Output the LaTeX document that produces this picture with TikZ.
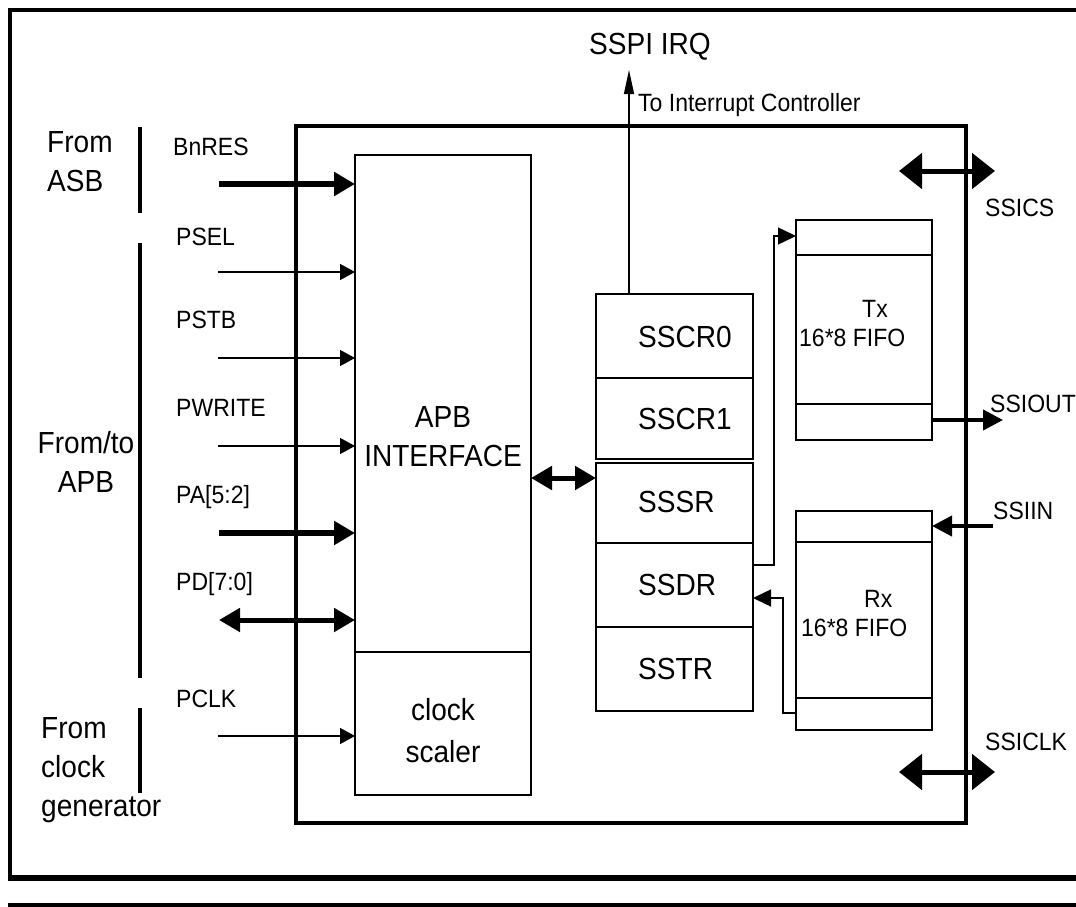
\documentclass[tikz,border=0pt]{standalone}
\usepackage{fontspec}
\setmainfont{Liberation Sans}[FakeStretch=0.92]
\usetikzlibrary{arrows.meta}
\newcommand{\bigf}{\fontsize{30.5pt}{39pt}\selectfont}
\newcommand{\smf}{\fontsize{25pt}{29pt}\selectfont}
\tikzset{
  blk/.style={draw, line width=1.4pt, inner sep=0pt, outer sep=0pt, anchor=north west},
  bigtxt/.style={font=\bigf, inner sep=0pt},
  smtxt/.style={font=\smf, inner sep=0pt},
  thinarr/.style={line width=1.3pt, -{Triangle[length=15pt,width=16pt]}},
  thickarr/.style={line width=6pt, -{Triangle[length=21pt,width=23pt]}},
  thickdbl/.style={line width=5pt, {Triangle[length=21pt,width=23pt]}-{Triangle[length=21pt,width=23pt]}},
  bigdbl/.style={line width=5pt, {Triangle[length=23pt,width=35pt]}-{Triangle[length=23pt,width=35pt]}},
  medarr/.style={line width=4pt, -{Triangle[length=20pt,width=20pt]}},
  smallarr/.style={line width=1.5pt, -{Triangle[length=18pt,width=17pt]}},
  irqarr/.style={line width=1.3pt, -{Triangle[length=24pt,width=10pt]}},
  bar/.style={line width=4pt},
}
\begin{document}
\begin{tikzpicture}[x=1pt,y=-1pt]
\useasboundingbox (0,0) rectangle (1076,907);
% outer frame
\draw[line width=4pt] (1076,10) -- (10,10) -- (10,878);
\draw[line width=6.5pt] (8,878) -- (1076,878);
\draw[line width=5pt] (8,905) -- (1076,905);

% main box
\node[blk, line width=3.5pt, minimum width=670pt, minimum height=697pt] (main) at (296,126) {};

% APB interface and clock scaler
\node[blk, minimum width=176pt, minimum height=497pt] (apb) at (355,155) {};
\node[blk, minimum width=176pt, minimum height=143pt] (clk) at (355,652) {};
\node[bigtxt, align=center] (clkt) at (443,731) {clock\\[3pt]scaler};
\node[bigtxt, align=center] (apbt) at (443,437) {APB\\INTERFACE};

% registers
\node[blk, minimum width=157pt, minimum height=84pt] (reg0) at (596,294) {};
\node[blk, minimum width=157pt, minimum height=81pt] (reg1) at (596,378) {};
\node[blk, minimum width=157pt, minimum height=80pt] (reg2) at (596,463) {};
\node[blk, minimum width=157pt, minimum height=84pt] (reg3) at (596,543) {};
\node[blk, minimum width=157pt, minimum height=84pt] (reg4) at (596,627) {};
\node[bigtxt, anchor=west] (t0) at (638,337) {SSCR0};
\node[bigtxt, anchor=west] (t1) at (638,419) {SSCR1};
\node[bigtxt, anchor=west] (t2) at (638,502) {SSSR};
\node[bigtxt, anchor=west] (t3) at (638,585) {SSDR};
\node[bigtxt, anchor=west] (t4) at (638,669) {SSTR};

% FIFOs
\node[blk, minimum width=136pt, minimum height=220pt] (tx) at (796,220) {};
\draw[line width=1.4pt] ([yshift=-35pt]tx.north west) -- ([yshift=-35pt]tx.north east);
\draw[line width=1.4pt] ([yshift=36pt]tx.south west) -- ([yshift=36pt]tx.south east);
\node[smtxt, align=left, anchor=north west] (txt) at (799,300) {\hspace*{63pt}Tx\\16*8 FIFO};

\node[blk, minimum width=136pt, minimum height=219pt] (rx) at (796,511) {};
\draw[line width=1.4pt] ([yshift=-31pt]rx.north west) -- ([yshift=-31pt]rx.north east);
\draw[line width=1.4pt] ([yshift=32pt]rx.south west) -- ([yshift=32pt]rx.south east);
\node[smtxt, align=left, anchor=north west] (rxt) at (801,590) {\hspace*{63pt}Rx\\16*8 FIFO};

% IRQ
\coordinate (irqtop) at (629,70);
\draw[irqarr] (reg0.north -| irqtop) -- (irqtop);
\node[bigtxt] (irq) at (650,47) {SSPI IRQ};
\node[smtxt, anchor=west] (irqlab) at (638,105) {To Interrupt Controller};

% APB <-> registers
\coordinate (mid) at (563,478);
\draw[thickdbl] (apb.east |- mid) -- (reg2.west |- mid);

% SSDR -> Tx, Rx -> SSDR
\draw[smallarr] ([yshift=20pt]reg3.east) -- ++(21,0) |- ([yshift=-16pt]tx.north west);
\draw[smallarr] ([yshift=17pt]rx.south west) -- ++(-13,0) |- ([yshift=-13pt]reg3.east);

% right side signals
\coordinate (csL) at (899,171); \coordinate (csR) at (995,171);
\draw[bigdbl] (csL) -- (csR);
\node[smtxt, anchor=west] (ssics) at (985,208) {SSICS};
\coordinate (outR) at (1003,420);
\draw[medarr] ([yshift=20pt]tx.south east) -- (outR);
\node[smtxt, anchor=west] (ssiout) at (990,404) {SSIOUT};
\coordinate (inR) at (993,526);
\draw[medarr] (inR) -- ([yshift=-15pt]rx.north east);
\node[smtxt, anchor=west] (ssiin) at (993,511) {SSIIN};
\coordinate (clL) at (899,772); \coordinate (clR) at (995,772);
\draw[bigdbl] (clL) -- (clR);
\node[smtxt, anchor=west] (ssiclk) at (985,742) {SSICLK};

% left side signals
\coordinate (bnres) at (219,184);
\coordinate (psel) at (218,272);
\coordinate (pstb) at (218,358);
\coordinate (pwrite) at (218,446);
\coordinate (pa) at (219,533);
\coordinate (pd) at (219,620);
\coordinate (pclk) at (218,736);
\draw[thickarr] (bnres) -- (bnres -| apb.west);
\draw[thinarr] (psel) -- (psel -| apb.west);
\draw[thinarr] (pstb) -- (pstb -| apb.west);
\draw[thinarr] (pwrite) -- (pwrite -| apb.west);
\draw[thickarr] (pa) -- (pa -| apb.west);
\draw[thickdbl] (pd) -- (pd -| apb.west);
\draw[thinarr] (pclk) -- (pclk -| clk.west);

\node[smtxt, anchor=west] (l1) at (173,147) {BnRES};
\node[smtxt, anchor=west] (l2) at (176,237) {PSEL};
\node[smtxt, anchor=west] (l3) at (176,320) {PSTB};
\node[smtxt, anchor=west] (l4) at (176,408) {PWRITE};
\node[smtxt, anchor=west] (l5) at (176,497) {PA[5:2]};
\node[smtxt, anchor=west] (l6) at (176,584) {PD[7:0]};
\node[smtxt, anchor=west] (l7) at (176,699) {PCLK};

% group bars and captions
\draw[bar] (140,127) -- (140,213);
\draw[bar] (140,243) -- (140,678);
\draw[bar] (140,708) -- (140,793);
\node[bigtxt, align=left, anchor=north west] (g1) at (47,131) {From\\ASB};
\node[bigtxt, align=center] (g2) at (86,462) {From/to\\APB};
\node[bigtxt, align=left, anchor=north west] (g3) at (41,717) {From\\clock\\generator};
\end{tikzpicture}
\end{document}
